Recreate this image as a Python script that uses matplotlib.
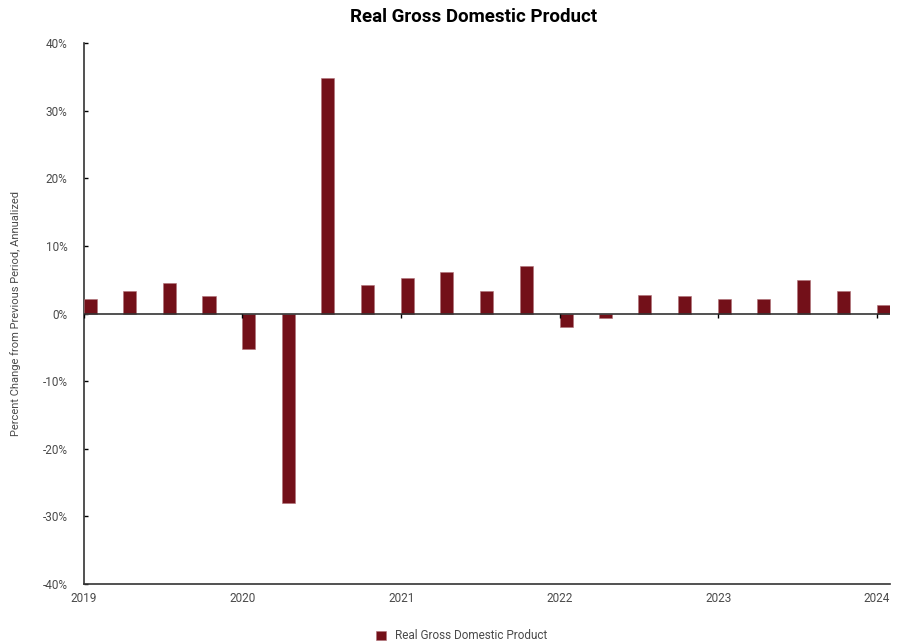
import numpy as np
import pandas as pd
import matplotlib
matplotlib.use("Agg")
import matplotlib.pyplot as plt
import matplotlib.dates as mdates
from matplotlib.ticker import FuncFormatter

plt.rcParams['font.family'] = ['Roboto', 'DejaVu Sans']

# quarterly real GDP, % change annualized
quarters = pd.date_range("2019-01-01", "2024-01-01", freq="QS")
gdp = [2.2, 3.4, 4.5, 2.6,
       -5.3, -28.0, 34.8, 4.2,
       5.2, 6.2, 3.3, 7.0,
       -2.0, -0.6, 2.7, 2.6,
       2.2, 2.1, 4.9, 3.4,
       1.3]
years = pd.date_range("2019-01-01", "2024-01-01", freq="YS")
year_labels = [str(y.year) for y in years]

BAR = "#731019"
AXC = "#333333"
TXT = "#4a4a4a"

fig = plt.figure(figsize=(9, 6.44), dpi=100)
ax = fig.add_axes([0.0933, 0.0932, 0.8957, 0.8398])

ax.bar(quarters, gdp, width=30, align="edge", color=BAR, edgecolor="#b07078",
       linewidth=0.4, zorder=3, label="Real Gross Domestic Product")
ax.axhline(0, color=AXC, lw=1.2, zorder=4)
# small year ticks on the zero line
ax.vlines(mdates.date2num(years), -0.6, 0, color="black", lw=1, zorder=4)

ax.set_ylim(-40, 40)
ax.set_yticks(np.arange(-40, 41, 10))
ax.yaxis.set_major_formatter(FuncFormatter(lambda v, p: f"{v:.0f}%"))
ax.set_xlim(mdates.date2num(years[0]), mdates.date2num(years[-1]) + 31)
ax.set_xticks(mdates.date2num(years))
ax.set_xticklabels(year_labels)

for s in ["top", "right"]:
    ax.spines[s].set_visible(False)
for s in ["left", "bottom"]:
    ax.spines[s].set_color(AXC)
    ax.spines[s].set_linewidth(1.2)
ax.tick_params(axis="y", direction="in", length=3, width=1, color="black",
               labelsize=8.5, labelcolor=TXT, pad=12)
ax.tick_params(axis="x", length=0, labelsize=8.5, labelcolor=TXT, pad=6)

ax.set_ylabel("Percent Change from Previous Period, Annualized", fontsize=8,
              color=TXT)
ax.yaxis.set_label_coords(-0.078, 0.5)
fig.suptitle("Real Gross Domestic Product", fontsize=13.5, fontweight="bold",
             y=0.988, x=0.526)

fig.legend(loc="lower center", bbox_to_anchor=(0.513, -0.014), frameon=False,
           fontsize=8.5, handlelength=0.8, handleheight=0.8, labelcolor=TXT)

fig.savefig("out.png", dpi=100)
